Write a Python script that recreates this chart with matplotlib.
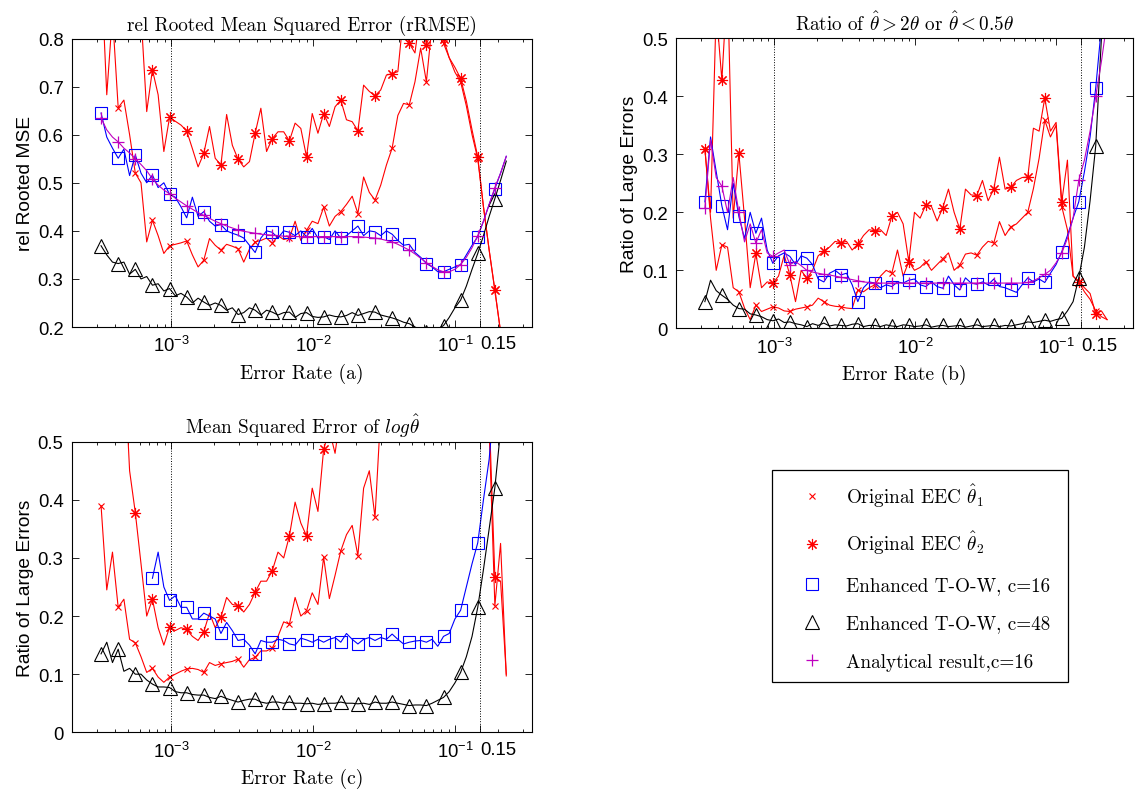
import numpy as np
import matplotlib
matplotlib.use('Agg')
import matplotlib.pyplot as plt
from matplotlib.lines import Line2D
from matplotlib.ticker import LogLocator, NullFormatter, FixedLocator
from matplotlib.font_manager import FontProperties

nan = np.nan

# error-rate sweep (log-spaced grid of the simulation)
error_rate = 10 ** np.linspace(-3.494, -0.640, 72)

# ---------------- (a) relative rooted MSE ----------------
a_eec1 = [.95, .683, .85, .656, .672, .60, .52, .50, .377, .422, .39, .353,
          .369, .372, .375, .379, .35, .325, .339, .384, .37, .36, .372, .368,
          .363, .335, .362, .377, .38, .385, .374, .39, .382, .385, .42, .38,
          .401, .42, .415, .449, .41, .43, .44, .455, .472, .436, .512, .48,
          .464, .495, .537, .572, .64, .665, .662, .71, .78, .71, .83, .81,
          .79, .76, .73, .71, .66, .60, .55, .45, .36, .277, .19, .12]
a_eec2 = [.95, .95, .90, .90, .92, .88, .90, .85, .648, .735, .683, .565,
          .636, .628, .62, .608, .571, .533, .561, .617, .551, .537, .642, .578,
          .549, .533, .544, .603, .655, .565, .592, .606, .606, .587, .624, .613,
          .554, .644, .603, .644, .617, .658, .672, .631, .627, .608, .703, .69,
          .681, .693, .724, .727, .731, .85, .79, .77, .86, .787, .82, .84,
          .80, .76, .74, .717, .67, .61, .554, .45, .36, .276, .19, .12]
a_c16 = [.645, .595, .572, .551, .57, .515, .558, .52, .50, .516, .49, .50,
         .476, .47, .45, .427, .47, .43, .44, .42, .41, .413, .40, .395,
         .391, .385, .37, .355, .385, .40, .397, .385, .40, .397, .39, .40,
         .388, .405, .385, .388, .382, .40, .385, .39, .40, .41, .39, .40,
         .398, .39, .40, .393, .38, .37, .372, .355, .345, .332, .325, .315,
         .315, .32, .325, .33, .35, .37, .388, .42, .455, .488, .52, .555]
a_c48 = [.369, .35, .335, .332, .335, .31, .32, .30, .305, .287, .29, .275,
         .28, .265, .27, .2625, .25, .26, .252, .245, .25, .245, .235, .24,
         .226, .23, .24, .235, .225, .235, .231, .225, .23, .231, .22, .228,
         .23, .222, .22, .221, .225, .222, .221, .224, .23, .224, .228, .232,
         .231, .225, .222, .219, .215, .21, .207, .20, .195, .19, .19, .196,
         .203, .22, .24, .256, .285, .32, .353, .39, .43, .467, .505, .545]
a_theory = [.635, .61, .595, .585, .572, .562, .55, .538, .525, .508, .495, .485,
            .477, .468, .46, .452, .445, .438, .432, .426, .42, .415, .41, .406,
            .402, .399, .397, .395, .393, .392, .391, .39, .389, .389, .388, .388,
            .388, .388, .388, .388, .388, .388, .388, .388, .388, .388, .387, .386,
            .385, .383, .38, .377, .372, .366, .36, .352, .343, .334, .326, .319,
            .315, .315, .32, .33, .345, .365, .39, .42, .455, .49, .52, .555]

# ---------------- (b) ratio of large errors ----------------
b_eec1 = [.31, .19, .10, .144, .14, .07, .063, .035, .015, .04, .029, .033,
          .037, .035, .03, .029, .033, .035, .037, .04, .052, .046, .04, .038,
          .037, .035, .034, .066, .063, .07, .075, .09, .10, .095, .135, .09,
          .115, .10, .105, .115, .10, .11, .12, .13, .10, .109, .128, .13,
          .126, .14, .15, .147, .184, .16, .175, .18, .19, .20, .241, .293,
          .359, .33, .35, .21, .17, .09, .08, .063, .05, .03, .02, .015]
b_eec2 = [.31, .20, .55, .428, .60, .19, .302, .19, .07, .129, .07, .08,
          .078, .09, .126, .092, .046, .10, .086, .10, .125, .133, .14, .15,
          .147, .15, .135, .145, .16, .17, .168, .17, .16, .193, .20, .18,
          .115, .20, .19, .213, .21, .185, .208, .24, .20, .171, .24, .23,
          .229, .255, .22, .24, .295, .24, .243, .255, .26, .261, .345, .34,
          .397, .34, .355, .218, .29, .09, .08, .07, .06, .025, .03, .015]
b_c16 = [.218, .33, .27, .211, .17, .25, .193, .155, .20, .164, .19, .135,
         .112, .125, .13, .124, .11, .125, .121, .11, .085, .08, .095, .10,
         .092, .095, .075, .046, .07, .08, .078, .07, .075, .072, .08, .078,
         .083, .085, .075, .072, .08, .072, .069, .09, .075, .066, .087, .078,
         .076, .08, .075, .085, .072, .07, .066, .062, .075, .087, .08, .085,
         .079, .095, .11, .132, .16, .19, .218, .27, .33, .415, .52, .62]
b_c48 = [.046, .083, .065, .057, .05, .04, .034, .033, .025, .023, .02, .015,
         .013, .016, .01, .011, .008, .006, .003, .008, .005, .009, .004, .006,
         .005, .004, .007, .008, .003, .005, .005, .003, .006, .004, .003, .006,
         .005, .003, .004, .006, .002, .004, .005, .003, .004, .005, .002, .004,
         .006, .003, .004, .005, .003, .005, .004, .006, .008, .011, .01, .012,
         .014, .012, .015, .017, .03, .046, .087, .14, .22, .315, .50, .65]
b_theory = [.207, .325, .26, .245, .20, .26, .20, .149, .18, .147, .17, .13,
            .124, .13, .135, .11, .115, .108, .10, .097, .095, .093, .092, .09,
            .088, .086, .084, .082, .08, .079, .078, .078, .078, .078, .078, .078,
            .078, .078, .078, .078, .078, .078, .078, .078, .078, .078, .078, .078,
            .078, .078, .078, .078, .078, .078, .078, .078, .078, .079, .082, .087,
            .093, .10, .113, .13, .155, .19, .255, .29, .34, .40, .46, .53]

# ---------------- (c) MSE of log(theta) ----------------
c_eec1 = [.39, .245, .31, .215, .229, .16, .154, .13, .103, .11, .095, .086,
          .095, .10, .105, .109, .11, .108, .103, .12, .115, .118, .12, .122,
          .126, .112, .125, .129, .14, .14, .145, .165, .19, .186, .232, .20,
          .209, .24, .22, .301, .23, .27, .312, .34, .356, .304, .42, .45,
          .37, .55, .60, .65, .62, .70, .75, .72, .80, .85, .82, .90,
          .95, .90, .95, .92, .95, .90, .85, .80, .52, .218, .325, .097]
c_eec2 = [.90, .85, .80, .70, .65, .45, .378, .29, .20, .229, .18, .15,
          .181, .175, .18, .177, .165, .158, .173, .205, .18, .198, .232, .22,
          .218, .207, .22, .241, .26, .26, .278, .31, .30, .338, .396, .36,
          .338, .42, .38, .487, .52, .48, .55, .60, .52, .58, .65, .60,
          .70, .75, .80, .78, .85, .90, .88, .95, .90, .95, .92, .95,
          .98, .95, .92, .95, .90, .85, .80, .70, .55, .267, .26, .10]
c_c16 = [nan, nan, nan, nan, nan, nan, nan, .304, nan, .265, .31, .25,
         .227, .235, .215, .215, .195, .195, .205, .20, .195, .17, .189, .175,
         .158, .16, .15, .135, .158, .155, .155, .16, .158, .152, .15, .162,
         .159, .155, .16, .155, .16, .163, .155, .17, .16, .152, .16, .163,
         .158, .163, .16, .169, .16, .152, .155, .157, .158, .155, .16, .148,
         .165, .17, .195, .21, .25, .29, .326, .40, .47, .58, .75, .90]
c_c48 = [.135, .155, .12, .143, .105, .11, .10, .10, .09, .083, .078, .078,
         .077, .07, .068, .068, .065, .064, .064, .06, .058, .062, .058, .055,
         .052, .055, .057, .057, .052, .05, .052, .052, .05, .052, .05, .05,
         .049, .05, .048, .049, .05, .05, .052, .05, .05, .049, .05, .048,
         .052, .05, .05, .052, .05, .048, .046, .047, .047, .046, .05, .055,
         .06, .07, .085, .103, .13, .165, .215, .28, .35, .421, .52, .65]

series_labels = [r'Original EEC $\hat{\theta}_1$', r'Original EEC $\hat{\theta}_2$',
                 'Enhanced T-O-W, c=16', 'Enhanced T-O-W, c=48',
                 'Analytical result,c=16']

# line / marker styles per estimator
styles = [
    dict(color='r', marker='x', ms=5, mew=0.8),
    dict(color='r', marker=(8, 2, 0), ms=8, mew=0.8),
    dict(color='b', marker='s', ms=9, mew=0.8, mfc='none'),
    dict(color='k', marker='^', ms=10, mew=0.8, mfc='none'),
    dict(color='m', marker='+', ms=9, mew=0.9),
]

plt.rcParams['font.family'] = 'Liberation Sans'
plt.rcParams['mathtext.fontset'] = 'custom'
plt.rcParams['mathtext.rm'] = 'Liberation Sans'
plt.rcParams['mathtext.it'] = 'Liberation Sans:italic'
plt.rcParams['mathtext.bf'] = 'Liberation Sans:bold'

serif = dict(fontfamily='cmr10', math_fontfamily='cm')


def draw_panel(ax, curves, ylim, yticks, ylabel, title, xlabel):
    for y, st in zip(curves, styles):
        if y is None:
            continue
        ax.plot(error_rate, y, lw=0.8, markevery=3, **st)
    ax.set_xscale('log')
    ax.set_xlim(2e-4, 0.35)
    ax.set_ylim(*ylim)
    ax.axvline(1e-3, color='k', ls=':', lw=0.7)
    ax.axvline(0.15, color='k', ls=':', lw=0.7)
    ax.xaxis.set_major_locator(FixedLocator([1e-3, 1e-2, 1e-1, 0.15]))
    ax.set_xticklabels([r'$10^{-3}$', r'$10^{-2}$', r'$10^{-1}$', '0.15'])
    ax.get_xticklabels()[3].set_horizontalalignment('left')
    ax.xaxis.set_minor_locator(LogLocator(base=10, subs=np.arange(2, 10), numticks=20))
    ax.xaxis.set_minor_formatter(NullFormatter())
    ax.set_yticks(yticks)
    ax.set_yticklabels(['%g' % v for v in yticks])
    ax.tick_params(which='both', direction='in', top=True, right=True,
                   labelsize=13.3, width=0.6)
    ax.tick_params(which='major', length=5, pad=6)
    ax.tick_params(which='minor', length=2.5)
    for sp in ax.spines.values():
        sp.set_linewidth(0.8)
    ax.set_ylabel(ylabel, fontsize=13.8, labelpad=3)
    ax.set_title(title, pad=6, fontsize=13.8, **serif)
    ax.set_xlabel(xlabel, labelpad=5, fontsize=14, **serif)


fig = plt.figure(figsize=(11.44, 8.03), dpi=100)
ax_a = fig.add_axes([0.0629, 0.5915, 0.4025, 0.3593])
ax_b = fig.add_axes([0.5909, 0.5899, 0.3995, 0.3611])
ax_c = fig.add_axes([0.0629, 0.0868, 0.4025, 0.3619])

draw_panel(ax_a, [a_eec1, a_eec2, a_c16, a_c48, a_theory], (0.2, 0.8),
           [0.2, 0.3, 0.4, 0.5, 0.6, 0.7, 0.8], 'rel Rooted MSE',
           'rel Rooted Mean Squared Error (rRMSE)', 'Error Rate (a)')
draw_panel(ax_b, [b_eec1, b_eec2, b_c16, b_c48, b_theory], (0, 0.5),
           [0, 0.1, 0.2, 0.3, 0.4, 0.5], 'Ratio of Large Errors',
           r'Ratio of $\hat{\theta} > 2\theta$ or $\hat{\theta} < 0.5\theta$',
           'Error Rate (b)')
draw_panel(ax_c, [c_eec1, c_eec2, c_c16, c_c48, None], (0, 0.5),
           [0, 0.1, 0.2, 0.3, 0.4, 0.5], 'Ratio of Large Errors',
           r'Mean Squared Error of $log\hat{\theta}$', 'Error Rate (c)')

handles = [Line2D([], [], ls='none', **st) for st in styles]
leg = fig.legend(handles, series_labels, loc='upper left',
                 bbox_to_anchor=(0.6746, 0.1507, 0.2590, 0.2631), mode='expand',
                 prop=FontProperties(family='cmr10', size=13.8, math_fontfamily='cm'),
                 frameon=True, fancybox=False, edgecolor='k', framealpha=1,
                 borderpad=0.6, labelspacing=1.05, handlelength=2.95,
                 handletextpad=0.35, borderaxespad=0)
leg.get_frame().set_linewidth(0.9)

fig.savefig('out.png', dpi=100)
